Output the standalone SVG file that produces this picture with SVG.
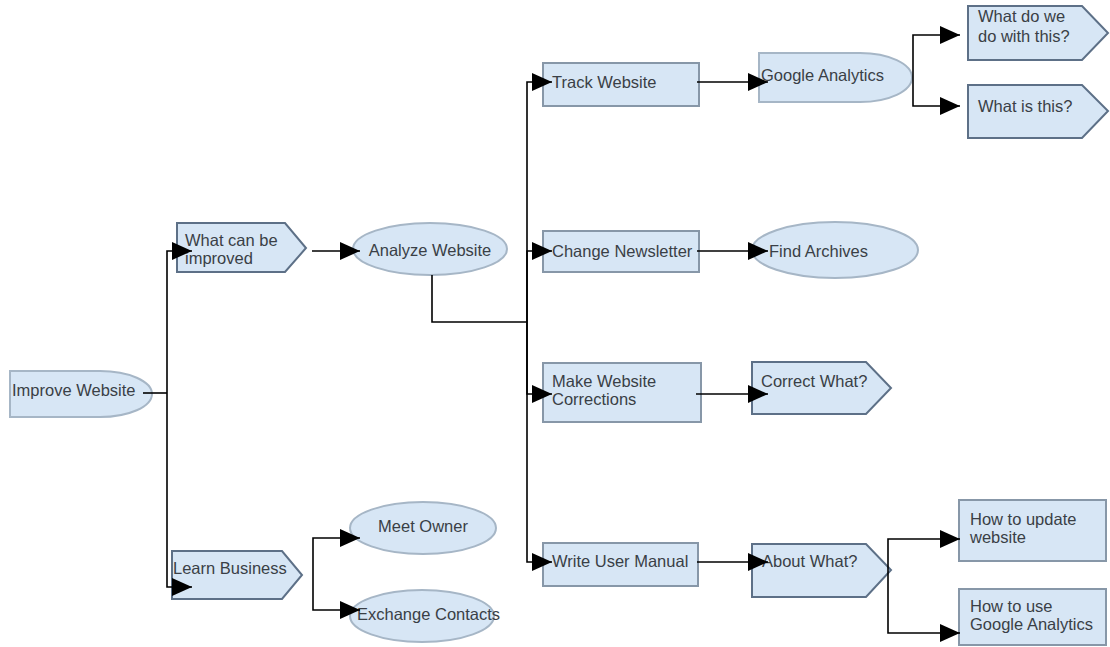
<svg xmlns="http://www.w3.org/2000/svg" width="1110" height="647" viewBox="0 0 1110 647">
<style>
.n{fill:#d7e6f5;stroke:#8797a8;stroke-width:2}
.p{fill:#d7e6f5;stroke:#5d7087;stroke-width:2}
.e{fill:#d7e6f5;stroke:#a6b6c6;stroke-width:2}
text{font-family:"Liberation Sans",Arial,sans-serif;font-size:16.5px;fill:#3a3f46}
.c{fill:none;stroke:#000;stroke-width:1.6}
</style>
<defs>
<marker id="ah" markerUnits="userSpaceOnUse" markerWidth="21" markerHeight="20" refX="20" refY="9" orient="auto">
<path d="M0,0 L20,9 L0,18 Z" fill="#000"/>
</marker>
</defs>
<rect width="1110" height="647" fill="#fff"/>
<g id="n-improve"><path class="e" d="M10,371 H100 A52,23 0 0 1 100,417 H10 Z"/><text x="12" y="396">Improve Website</text></g>
<g id="n-whatcan"><path class="p" d="M177,223 H285 L306,248 L285,272 H177 Z"/><text x="185" y="246">What can be</text><text x="185" y="264">improved</text></g>
<g id="n-learn"><path class="p" d="M172,551 H282 L302,575 L282,599 H172 Z"/><text x="173" y="574">Learn Business</text></g>
<g id="n-analyze"><ellipse class="e" cx="430" cy="249" rx="77" ry="26"/><text x="430" y="256" text-anchor="middle">Analyze Website</text></g>
<g id="n-meet"><ellipse class="e" cx="423" cy="528" rx="73" ry="26"/><text x="423" y="532" text-anchor="middle">Meet Owner</text></g>
<g id="n-exchange"><ellipse class="e" cx="422" cy="616" rx="72" ry="26"/><text x="357" y="620">Exchange Contacts</text></g>
<g id="n-track"><rect class="n" x="543" y="63" width="156" height="43"/><text x="552" y="88">Track Website</text></g>
<g id="n-change"><rect class="n" x="543" y="231" width="156" height="41"/><text x="552" y="257">Change Newsletter</text></g>
<g id="n-make"><rect class="n" x="543" y="363" width="158" height="59"/><text x="552" y="387">Make Website</text><text x="552" y="405">Corrections</text></g>
<g id="n-write"><rect class="n" x="543" y="543" width="155" height="43"/><text x="552" y="567">Write User Manual</text></g>
<g id="n-google"><path class="e" d="M759,53 H860 A52,24.5 0 0 1 860,102 H759 Z"/><text x="761" y="81">Google Analytics</text></g>
<g id="n-find"><ellipse class="e" cx="835" cy="250" rx="83" ry="28"/><text x="769" y="257">Find Archives</text></g>
<g id="n-correct"><path class="p" d="M752,362 H866 L891,388 L866,414 H752 Z"/><text x="761" y="387">Correct What?</text></g>
<g id="n-about"><path class="p" d="M752,544 H866 L891,570 L866,597 H752 Z"/><text x="762" y="567">About What?</text></g>
<g id="n-whatdo"><path class="p" d="M968,6 H1082 L1108,33 L1082,60 H968 Z"/><text x="978" y="22">What do we</text><text x="978" y="42">do with this?</text></g>
<g id="n-whatis"><path class="p" d="M968,85 H1082 L1108,111 L1082,138 H968 Z"/><text x="978" y="112">What is this?</text></g>
<g id="n-howupdate"><rect class="n" x="959" y="500" width="147" height="61"/><text x="970" y="525">How to update</text><text x="970" y="543">website</text></g>
<g id="n-howuse"><rect class="n" x="959" y="589" width="147" height="56"/><text x="970" y="612">How to use</text><text x="970" y="630">Google Analytics</text></g>
<g id="connectors">
<path class="c" d="M143,393 H167"/>
<path class="c" d="M167,393 V251 H192" marker-end="url(#ah)"/>
<path class="c" d="M167,393 V587 H192" marker-end="url(#ah)"/>
<path class="c" d="M312,251 H360" marker-end="url(#ah)"/>
<path class="c" d="M432,275 V322 H527"/>
<path class="c" d="M527,322 V82 H552" marker-end="url(#ah)"/>
<path class="c" d="M527,322 V251 H552" marker-end="url(#ah)"/>
<path class="c" d="M527,322 V394 H552" marker-end="url(#ah)"/>
<path class="c" d="M527,322 V562 H552" marker-end="url(#ah)"/>
<path class="c" d="M697,82 H768" marker-end="url(#ah)"/>
<path class="c" d="M697,251 H768" marker-end="url(#ah)"/>
<path class="c" d="M696,394 H768" marker-end="url(#ah)"/>
<path class="c" d="M697,562 H768" marker-end="url(#ah)"/>
<path class="c" d="M913,75 V35 H960" marker-end="url(#ah)"/>
<path class="c" d="M913,75 V106 H960" marker-end="url(#ah)"/>
<path class="c" d="M888,570 V539 H960" marker-end="url(#ah)"/>
<path class="c" d="M888,570 V633 H960" marker-end="url(#ah)"/>
<path class="c" d="M313,575 V538 H360" marker-end="url(#ah)"/>
<path class="c" d="M313,575 V610 H360" marker-end="url(#ah)"/>
</g>
</svg>
